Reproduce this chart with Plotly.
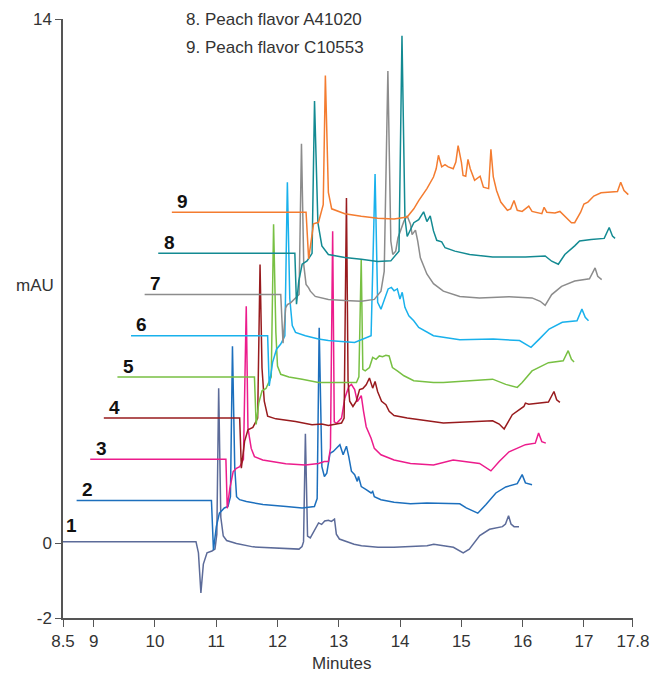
import plotly.graph_objects as go

# ---------------- data (local time in min, absorbance relative to each trace's own baseline, mAU) ----
SAMPLE_LABELS = ["1", "2", "3", "4", "5", "6", "7", "8", "9"]
LEGEND_LINES = ["8. Peach flavor A41020", "9. Peach flavor C10553"]
COLORS = ["#5c6b99", "#1c6fbd", "#ec1c8c", "#981b1e", "#78c043",
          "#19b1ec", "#8c8c8c", "#138a92", "#f47c30"]

TRACE_1 = [(8.5, 0), (10.67, 0), (10.71, -0.3), (10.75, -1.37), (10.79, -0.6), (10.85, -0.3),
           (10.93, -0.25), (10.98, -0.2), (11.01, 0.2), (11.04, 4.1), (11.075, 0.65), (11.115, 0.15),
           (11.17, 0.03), (11.33, -0.05), (11.6, -0.14), (11.92, -0.17), (12.35, -0.2), (12.40, -0.13),
           (12.425, 0.0), (12.455, 2.88), (12.49, 0.15), (12.535, 0.1), (12.6, 0.28), (12.67, 0.5),
           (12.72, 0.46), (12.77, 0.55), (12.83, 0.57), (12.88, 0.54), (12.93, 0.6), (12.96, 0.2),
           (13.01, 0.07), (13.09, 0.02), (13.25, -0.07), (13.37, -0.11), (13.64, -0.15), (13.9, -0.15),
           (14.2, -0.13), (14.44, -0.11), (14.55, -0.07), (14.87, -0.15), (15.03, -0.3), (15.13, -0.2),
           (15.3, 0.16), (15.46, 0.33), (15.67, 0.4), (15.72, 0.47), (15.77, 0.69), (15.81, 0.47),
           (15.86, 0.4), (15.94, 0.4)]
TRACE_2 = [(8.5, 0), (10.70, 0), (10.733, -1.32), (10.78, -0.7), (10.83, -0.34), (10.91, -0.2),
           (10.97, -0.16), (11.01, 0.1), (11.043, 4.12), (11.08, 0.9), (11.11, 0.1), (11.16, 0.02),
           (11.27, -0.03), (11.54, -0.11), (11.92, -0.16), (12.18, -0.2), (12.38, -0.16), (12.425, 0.05),
           (12.458, 4.61), (12.502, 0.9), (12.543, 0.64), (12.582, 0.73), (12.635, 1.26), (12.688, 1.31),
           (12.743, 1.4), (12.796, 1.49), (12.849, 1.22), (12.903, 1.45), (12.94, 1.18), (12.984, 0.78),
           (13.037, 0.69), (13.08, 0.51), (13.1, 0.64), (13.145, 0.37), (13.225, 0.29), (13.305, 0.2),
           (13.331, 0.24), (13.358, 0.1), (13.466, 0.02), (13.68, -0.05), (13.948, -0.09), (14.215, -0.07),
           (14.752, -0.09), (14.858, -0.2), (15.046, -0.34), (15.18, -0.11), (15.341, 0.2), (15.502, 0.36),
           (15.69, 0.45), (15.77, 0.69), (15.823, 0.47), (15.931, 0.42)]
TRACE_3 = [(8.5, 0), (10.714, 0), (10.736, -1.31), (10.778, -0.78), (10.833, -0.33), (10.886, -0.24),
           (10.939, -0.2), (11.0, 0.0), (11.046, 4.09), (11.074, 0.83), (11.127, 0.29), (11.18, 0.07),
           (11.315, -0.02), (11.69, -0.12), (12.011, -0.15), (12.225, -0.11), (12.321, -0.06),
           (12.386, -0.06), (12.42, 0.3), (12.456, 6.09), (12.482, 1.0), (12.521, 0.96), (12.601, 1.1),
           (12.654, 1.63), (12.718, 1.94), (12.762, 2.0), (12.815, 1.86), (12.858, 1.54), (12.895, 1.63),
           (12.923, 1.7), (12.96, 1.28), (13.003, 0.87), (13.083, 0.56), (13.136, 0.29), (13.244, 0.12),
           (13.458, -0.02), (13.726, -0.11), (14.101, -0.15), (14.422, -0.02), (14.852, -0.11),
           (15.038, -0.31), (15.173, -0.06), (15.334, 0.2), (15.601, 0.39), (15.762, 0.43), (15.816, 0.7),
           (15.869, 0.47), (15.934, 0.43)]
TRACE_4 = [(8.5, 0), (10.717, 0), (10.744, -1.34), (10.797, -0.62), (10.852, -0.31), (10.932, -0.25),
           (11.01, 0.0), (11.049, 4.1), (11.081, 1.34), (11.118, 0.45), (11.173, 0.05), (11.307, -0.02),
           (11.628, -0.09), (11.897, -0.18), (12.057, -0.16), (12.164, -0.2), (12.379, -0.13), (12.421, 0.0),
           (12.459, 5.88), (12.485, 0.98), (12.512, 0.45), (12.565, 0.31), (12.62, 0.45), (12.673, 0.76),
           (12.726, 0.79), (12.781, 0.89), (12.834, 1.07), (12.887, 0.8), (12.926, 0.98), (12.967, 0.71),
           (13.032, 0.45), (13.103, 0.36), (13.156, 0.18), (13.236, 0.07), (13.45, 0.0), (13.665, -0.04),
           (13.879, -0.09), (14.04, -0.13), (14.844, -0.07), (14.951, -0.16), (15.032, -0.29),
           (15.165, 0.09), (15.354, 0.31), (15.379, 0.4), (15.434, 0.37), (15.755, 0.43), (15.845, 0.71),
           (15.889, 0.49), (15.942, 0.42)]
TRACE_5 = [(8.5, 0), (10.736, 0), (10.763, -1.27), (10.807, -0.69), (10.86, -0.37), (10.924, -0.31),
           (11.01, 0.0), (11.048, 4.08), (11.085, 1.2), (11.112, 0.29), (11.165, 0.07), (11.298, 0.0),
           (11.514, -0.06), (11.781, -0.15), (11.942, -0.15), (12.4, -0.15), (12.44, 0.0), (12.478, 3.14),
           (12.504, 0.2), (12.543, 0.16), (12.612, 0.25), (12.665, 0.52), (12.72, 0.47), (12.773, 0.56),
           (12.826, 0.54), (12.88, 0.58), (12.933, 0.56), (12.987, 0.25), (13.067, 0.16), (13.175, 0.03),
           (13.335, -0.1), (13.657, -0.15), (13.818, -0.15), (14.622, -0.06), (14.836, -0.2),
           (15.024, -0.28), (15.104, -0.15), (15.265, 0.16), (15.533, 0.38), (15.774, 0.43), (15.855, 0.7),
           (15.908, 0.47), (15.951, 0.4)]
TRACE_6 = [(8.5, 0), (10.729, 0), (10.755, -1.34), (10.81, -0.71), (10.874, -0.36), (10.943, -0.22),
           (11.01, 0.0), (11.051, 4.1), (11.09, 1.0), (11.131, 0.27), (11.184, 0.09), (11.345, 0.0),
           (11.559, -0.09), (11.72, -0.13), (12.148, -0.18), (12.417, 0.0), (12.482, 4.32), (12.524, 0.89),
           (12.578, 0.71), (12.631, 0.98), (12.695, 1.25), (12.748, 1.29), (12.792, 1.2), (12.845, 1.25),
           (12.888, 0.98), (12.925, 1.16), (12.969, 0.76), (13.033, 0.53), (13.113, 0.4), (13.194, 0.22),
           (13.328, 0.09), (13.435, 0.0), (13.864, -0.11), (14.41, -0.09), (14.839, -0.13), (15.026, -0.31),
           (15.161, -0.09), (15.322, 0.18), (15.536, 0.36), (15.777, 0.4), (15.857, 0.71), (15.911, 0.49),
           (15.965, 0.4)]
TRACE_7 = [(8.5, 0), (10.721, 0), (10.758, -1.3), (10.801, -0.36), (10.829, -0.27), (10.882, -0.22),
           (11.02, 0.0), (11.059, 4.03), (11.096, 0.8), (11.134, 0.27), (11.176, 0.18), (11.204, 0.09),
           (11.284, -0.05), (11.498, -0.13), (11.766, -0.16), (12.035, -0.18), (12.248, -0.13),
           (12.356, 0.09), (12.409, 0.62), (12.469, 5.97), (12.517, 1.43), (12.549, 1.07), (12.597, 1.16),
           (12.634, 1.52), (12.731, 1.96), (12.784, 2.1), (12.839, 1.87), (12.864, 1.6), (12.919, 1.72),
           (12.956, 1.43), (12.999, 0.98), (13.105, 0.55), (13.213, 0.29), (13.374, 0.09), (13.642, -0.05),
           (13.964, -0.09), (14.446, -0.06), (14.821, -0.09), (14.954, -0.18), (15.035, -0.29),
           (15.142, 0.0), (15.303, 0.22), (15.517, 0.36), (15.758, 0.42), (15.85, 0.71), (15.893, 0.49),
           (15.958, 0.4)]
TRACE_8 = [(8.5, 0), (10.729, 0), (10.756, -1.36), (10.793, -0.74), (10.848, -0.29), (10.928, -0.2),
           (11.01, 0.0), (11.05, 4.07), (11.105, 0.82), (11.17, 0.2), (11.276, -0.03), (11.544, -0.11),
           (11.813, -0.16), (12.08, -0.22), (12.295, -0.2), (12.428, 0.06), (12.477, 5.81), (12.525, 0.95),
           (12.562, 0.45), (12.67, 0.82), (12.75, 0.9), (12.83, 1.11), (12.884, 0.85), (12.938, 1.0),
           (12.991, 0.6), (13.044, 0.35), (13.125, 0.31), (13.18, 0.15), (13.34, 0.06), (13.581, -0.03),
           (13.956, -0.1), (14.491, -0.1), (14.813, -0.07), (14.92, -0.21), (15.028, -0.29),
           (15.134, -0.03), (15.295, 0.2), (15.375, 0.33), (15.563, 0.37), (15.777, 0.4), (15.858, 0.69),
           (15.912, 0.46), (15.954, 0.4)]
TRACE_9 = [(8.5, 0), (10.69, 0), (10.732, -1.25), (10.775, -0.71), (10.812, -0.31), (10.893, -0.27),
           (10.936, 0.0), (10.97, 0.2), (11.005, 3.65), (11.054, 0.53), (11.108, 0.09), (11.322, -0.04),
           (11.59, -0.11), (11.858, -0.16), (12.126, -0.18), (12.34, -0.13), (12.448, 0.09), (12.528, 0.31),
           (12.662, 0.63), (12.769, 0.94), (12.813, 1.16), (12.85, 1.52), (12.903, 1.21), (12.957, 1.27),
           (13.01, 1.21), (13.091, 1.16), (13.134, 1.34), (13.171, 1.78), (13.224, 1.34), (13.252, 0.98),
           (13.295, 0.96), (13.332, 1.41), (13.369, 1.16), (13.44, 0.85), (13.53, 0.96), (13.584, 0.67),
           (13.669, 0.63), (13.706, 1.68), (13.745, 0.94), (13.798, 0.58), (13.867, 0.27), (13.975, 0.05),
           (14.028, 0.09), (14.083, 0.31), (14.136, 0.05), (14.216, 0.02), (14.324, 0.16), (14.377, 0.02),
           (14.537, -0.04), (14.574, 0.13), (14.618, 0.0), (14.751, -0.02), (14.832, 0.02), (14.94, -0.16),
           (15.02, -0.28), (15.073, -0.28), (15.17, 0.0), (15.224, 0.22), (15.289, 0.27), (15.385, 0.43),
           (15.503, 0.52), (15.771, 0.55), (15.824, 0.8), (15.878, 0.58), (15.948, 0.47)]
TRACES = [TRACE_1, TRACE_2, TRACE_3, TRACE_4, TRACE_5, TRACE_6, TRACE_7, TRACE_8, TRACE_9]

X_TICKS = [8.5, 9, 10, 11, 12, 13, 14, 15, 16, 17, 17.8]
X_TICK_TEXT = ["8.5", "9", "10", "11", "12", "13", "14", "15", "16", "17", "17.8"]
Y_TICKS = [-2, 0, 14]
Y_TICK_TEXT = ["-2", "0", "14"]

# stacking (waterfall) offsets applied per trace index
X_STEP = 0.222
Y_STEP = 1.10
Y_BASE = 0.04

FONT = "Liberation Sans, Arial, sans-serif"
TXT = "#333333"
AXC = "#555555"

fig = go.Figure()
for k, pts in enumerate(TRACES):
    xs = [p[0] + k * X_STEP for p in pts]
    ys = [p[1] + Y_BASE + k * Y_STEP for p in pts]
    fig.add_trace(go.Scatter(x=xs, y=ys, mode="lines",
                             line=dict(color=COLORS[k], width=1.5),
                             showlegend=False, hoverinfo="skip"))

annotations = []
for k, lab in enumerate(SAMPLE_LABELS):
    dx = 0.14 if k == 0 else 0.177
    dy = 0.42 if k == 0 else 0.29
    annotations.append(dict(x=8.5 + k * X_STEP + dx, y=Y_BASE + k * Y_STEP + dy,
                            xref="x", yref="y", text="<b>%s</b>" % lab, showarrow=False,
                            xanchor="center", yanchor="middle",
                            font=dict(family=FONT, size=19, color="#111111")))
for i, line in enumerate(LEGEND_LINES):
    annotations.append(dict(x=0.2126, y=[0.9984, 0.9523][i], xref="paper", yref="paper",
                            text=line, showarrow=False, xanchor="left", yanchor="middle",
                            font=dict(family=FONT, size=17, color=TXT)))
annotations.append(dict(x=-0.0493, y=0.555, xref="paper", yref="paper", text="mAU",
                        showarrow=False, xanchor="center", yanchor="middle",
                        font=dict(family=FONT, size=17, color=TXT)))
annotations.append(dict(x=0.489, y=-0.0755, xref="paper", yref="paper", text="Minutes",
                        showarrow=False, xanchor="center", yanchor="middle",
                        font=dict(family=FONT, size=17, color=TXT)))

fig.update_layout(
    width=660, height=679,
    margin=dict(l=63, r=18, t=10, b=61),
    paper_bgcolor="white", plot_bgcolor="white",
    annotations=annotations,
    xaxis=dict(range=[8.5, 17.8005], tickvals=X_TICKS, ticktext=X_TICK_TEXT,
               showgrid=False, zeroline=False, showline=True, linecolor=AXC, linewidth=1.5,
               ticks="outside", ticklen=7, tickwidth=1.2, tickcolor=AXC,
               ticklabeloverflow="allow",
               tickfont=dict(family=FONT, size=17, color=TXT)),
    yaxis=dict(range=[-2, 14.0005], tickvals=Y_TICKS, ticktext=Y_TICK_TEXT,
               showgrid=False, zeroline=False, showline=True, linecolor=AXC, linewidth=1.5,
               ticks="outside", ticklen=6, tickwidth=1.2, tickcolor=AXC,
               ticklabeloverflow="allow",
               tickfont=dict(family=FONT, size=17, color=TXT)),
)

fig.write_html("out.html")
